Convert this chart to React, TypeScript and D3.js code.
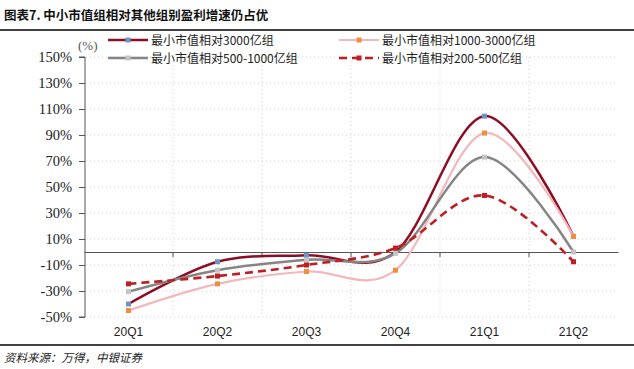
import React, { useEffect, useRef } from 'react';
import * as d3 from 'd3';

const categories = ['20Q1', '20Q2', '20Q3', '20Q4', '21Q1', '21Q2'];
const yTicks = [150, 130, 110, 90, 70, 50, 30, 10, -10, -30, -50];

const seriesNames = [
  '最小市值相对3000亿组',
  '最小市值相对1000-3000亿组',
  '最小市值相对500-1000亿组',
  '最小市值相对200-500亿组',
];
const vs3000 = [-40, -7.5, -2.5, 0, 104.5, 12];
const vs1000to3000 = [-45, -24.5, -15, -14, 91.5, 12];
const vs500to1000 = [-30.5, -14, -6, -1, 73, 0];
const vs200to500 = [-24.5, -18.5, -10, 3, 43.5, -7.5];

const styles = [
  { line: '#8c0d24', marker: '#6f93c6', width: 2.5, dash: null },
  { line: '#f2b8bb', marker: '#ee8f3e', width: 2.2, dash: null },
  { line: '#858585', marker: '#c4c4c4', width: 2.5, dash: null },
  { line: '#bd1f24', marker: '#bd1f24', width: 2.6, dash: '8,5' },
];

export default function App() {
  const ref = useRef<SVGSVGElement>(null);

  useEffect(() => {
    const svg = d3.select(ref.current);
    svg.selectAll('*').remove();
    const W = 634;
    const H = 369;
    const left = 84, right = 618, top = 57, bottom = 317;

    const x = d3.scaleBand().domain(categories).range([left, right]);
    const y = d3.scaleLinear().domain([-50, 150]).range([bottom, top]);
    const cx = (c: string) => (x(c) as number) + x.bandwidth() / 2;

    svg.append('rect').attr('width', W).attr('height', H).attr('fill', '#fff');

    // title
    svg.append('text')
      .attr('x', 4).attr('y', 20)
      .attr('font-family', '"Noto Sans CJK SC"')
      .attr('font-weight', 'bold')
      .attr('font-size', 12.5)
      .attr('fill', '#111')
      .text('图表7. 中小市值组相对其他组别盈利增速仍占优');
    svg.append('line').attr('x1', 0).attr('x2', W).attr('y1', 30).attr('y2', 30)
      .attr('stroke', '#000').attr('stroke-width', 1.5);
    svg.append('line').attr('x1', 0).attr('x2', W).attr('y1', 345).attr('y2', 345)
      .attr('stroke', '#000').attr('stroke-width', 1.5);
    svg.append('text')
      .attr('x', 4).attr('y', 362)
      .attr('font-family', '"Noto Sans CJK SC"')
      .attr('font-style', 'italic')
      .attr('font-size', 11.5)
      .attr('fill', '#222')
      .text('资料来源：万得，中银证券');

    // gridlines
    const grid = svg.append('g').attr('stroke', '#cfcfcf').attr('stroke-dasharray', '1,3');
    grid.selectAll('line.h').data(yTicks).enter().append('line')
      .attr('x1', left + 2).attr('x2', right)
      .attr('y1', d => y(d)).attr('y2', d => y(d));
    grid.selectAll('line.v').data(categories.slice(1)).enter().append('line')
      .attr('x1', d => x(d) as number).attr('x2', d => x(d) as number)
      .attr('y1', top).attr('y2', bottom);

    // y axis
    const yAxis = svg.append('g')
      .attr('transform', `translate(${left + 1},0)`)
      .call(d3.axisLeft(y).tickValues(yTicks).tickSize(6).tickPadding(7).tickFormat(d => `${d}%`));
    yAxis.select('.domain').attr('stroke', '#555').attr('d', `M-6,${top}H0V${bottom}H-6`);
    yAxis.selectAll('.tick line').attr('stroke', '#555');
    yAxis.selectAll('text')
      .attr('font-family', '"Liberation Serif"')
      .attr('font-size', 14.5)
      .attr('fill', '#222');

    // zero line with ticks
    const xAxis = svg.append('g')
      .attr('transform', `translate(0,${y(0)})`)
      .call(d3.axisBottom(x).tickSize(0).tickFormat(() => ''));
    xAxis.select('.domain').attr('stroke', '#555').attr('stroke-width', 1.2);
    xAxis.selectAll('.bnd').data(categories.slice(1)).enter().append('line')
      .attr('x1', d => x(d) as number).attr('x2', d => x(d) as number)
      .attr('y1', 0).attr('y2', 5).attr('stroke', '#555');

    // category labels
    svg.append('g').selectAll('text').data(categories).enter().append('text')
      .attr('x', d => cx(d)).attr('y', 336)
      .attr('text-anchor', 'middle')
      .attr('font-family', '"Liberation Sans"')
      .attr('font-size', 12)
      .attr('fill', '#222')
      .text(d => d);

    // unit
    svg.append('text').attr('x', 78).attr('y', 50)
      .attr('font-family', '"Liberation Serif"').attr('font-size', 13).attr('fill', '#555')
      .text('(%)');

    // lines
    const allSeries = [vs3000, vs1000to3000, vs500to1000, vs200to500];
    const line = d3.line<number>()
      .x((_, i) => cx(categories[i]))
      .y(d => y(d))
      .curve(d3.curveCatmullRom.alpha(0));
    const drawOrder = [0, 1, 2, 3];
    drawOrder.forEach(k => {
      const st = styles[k];
      svg.append('path').datum(allSeries[k])
        .attr('d', line)
        .attr('fill', 'none')
        .attr('stroke', st.line)
        .attr('stroke-width', st.width)
        .attr('stroke-dasharray', st.dash);
    });
    drawOrder.forEach(k => {
      svg.append('g').selectAll('rect').data(allSeries[k]).enter().append('rect')
        .attr('x', (_, i) => cx(categories[i]) - 2.5)
        .attr('y', d => y(d) - 2.5)
        .attr('width', 5).attr('height', 5)
        .attr('fill', styles[k].marker);
    });

    // legend
    const legendPos = [
      { x: 108, y: 40 },
      { x: 339, y: 40 },
      { x: 108, y: 58 },
      { x: 339, y: 58 },
    ];
    seriesNames.forEach((name, k) => {
      const p = legendPos[k];
      const st = styles[k];
      const g = svg.append('g').attr('transform', `translate(${p.x},${p.y})`);
      g.append('line').attr('x1', 0).attr('x2', 40).attr('y1', 0).attr('y2', 0)
        .attr('stroke', st.line).attr('stroke-width', st.width)
        .attr('stroke-dasharray', st.dash);
      g.append('rect').attr('x', 17.5).attr('y', -2.5).attr('width', 5).attr('height', 5)
        .attr('fill', st.marker);
      g.append('text').attr('x', 43).attr('y', 4.5)
        .attr('font-family', '"Noto Sans CJK SC"')
        .attr('font-size', 12)
        .attr('fill', '#222')
        .text(name);
    });
  }, []);

  return (
    <svg
      ref={ref}
      width={634}
      height={369}
      style={{ position: 'absolute', left: 0, top: 0 }}
    />
  );
}
